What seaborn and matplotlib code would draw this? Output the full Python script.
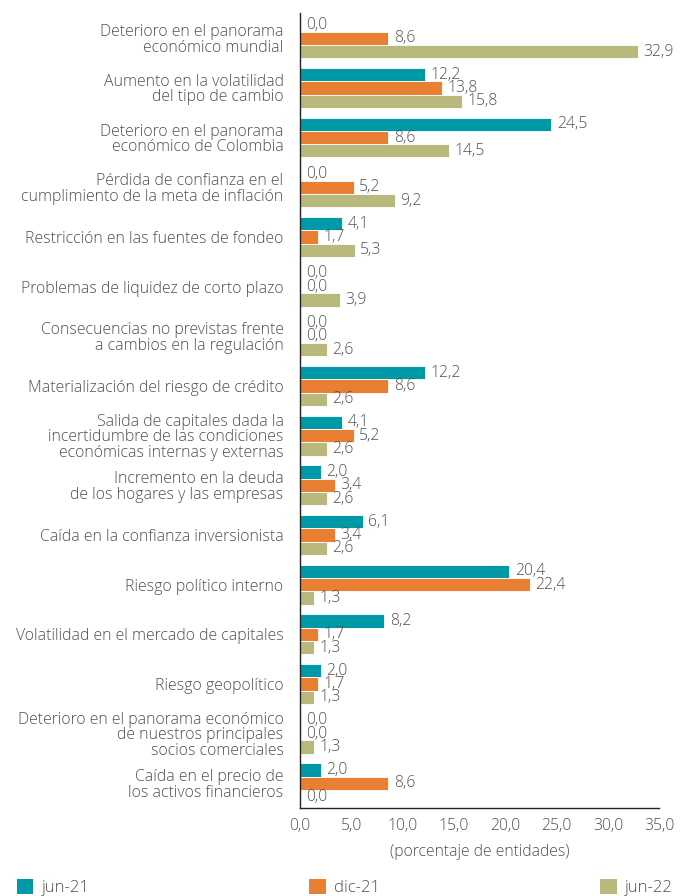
import matplotlib
matplotlib.use("Agg")
import matplotlib.pyplot as plt
import seaborn as sns
import pandas as pd
import numpy as np
from matplotlib.patches import Patch

categories = [
    "Deterioro en el panorama\neconómico mundial",
    "Aumento en la volatilidad\ndel tipo de cambio",
    "Deterioro en el panorama\neconómico de Colombia",
    "Pérdida de confianza en el\ncumplimiento de la meta de inflación",
    "Restricción en las fuentes de fondeo",
    "Problemas de liquidez de corto plazo",
    "Consecuencias no previstas frente\na cambios en la regulación",
    "Materialización del riesgo de crédito",
    "Salida de capitales dada la\nincertidumbre de las condiciones\neconómicas internas y externas",
    "Incremento en la deuda\nde los hogares y las empresas",
    "Caída en la confianza inversionista",
    "Riesgo político interno",
    "Volatilidad en el mercado de capitales",
    "Riesgo geopolítico",
    "Deterioro en el panorama económico\nde nuestros principales\nsocios comerciales",
    "Caída en el precio de\nlos activos financieros",
]
jun21 = [0.0, 12.2, 24.5, 0.0, 4.1, 0.0, 0.0, 12.2, 4.1, 2.0, 6.1, 20.4, 8.2, 2.0, 0.0, 2.0]
dic21 = [8.6, 13.8, 8.6, 5.2, 1.7, 0.0, 0.0, 8.6, 5.2, 3.4, 3.4, 22.4, 1.7, 1.7, 0.0, 8.6]
jun22 = [32.9, 15.8, 14.5, 9.2, 5.3, 3.9, 2.6, 2.6, 2.6, 2.6, 2.6, 1.3, 1.3, 1.3, 1.3, 0.0]
series = ["jun-21", "dic-21", "jun-22"]
colors = ["#0099A8", "#E97F32", "#B9B97D"]
xticks = [0, 5, 10, 15, 20, 25, 30, 35]

sns.set_theme(style="white")
plt.rcParams["font.family"] = ["Open Sans", "DejaVu Sans"]
plt.rcParams["font.weight"] = "light"
TXT = "#505050"

rows = []
for c, a, b, d in zip(categories, jun21, dic21, jun22):
    rows.append((c, "jun-21", a))
    rows.append((c, "dic-21", b))
    rows.append((c, "jun-22", d))
df = pd.DataFrame(rows, columns=["cat", "serie", "val"])

fig = plt.figure(figsize=(6.83, 8.96), dpi=100)
ax = fig.add_axes([0.4395, 0.098, 0.5256, 0.887])
sns.barplot(data=df, y="cat", x="val", hue="serie", order=categories,
            hue_order=series, palette=colors, saturation=1, orient="h", width=0.8,
            edgecolor="white", linewidth=0.6, ax=ax, legend=False)

for cont in ax.containers:
    labels = [f"{v:.1f}".replace(".", ",") for v in cont.datavalues]
    ax.bar_label(cont, labels=labels, padding=4, fontsize=11.3, color=TXT,
                 fontweight="light")

ax.set_xlim(0, 35)
ax.set_xticks(xticks)
ax.set_xticklabels([f"{t:.1f}".replace(".", ",") for t in xticks])
ax.set_ylabel("")
ax.set_xlabel("(porcentaje de entidades)", fontsize=11.3, color=TXT, labelpad=7,
              fontweight="light")
ax.tick_params(axis="x", direction="in", length=5, width=0.8, colors="#333333",
               labelsize=11.3, labelcolor=TXT, pad=7)
ax.tick_params(axis="y", length=0, labelsize=11.4, labelcolor=TXT, pad=12)
for lab in ax.get_yticklabels():
    lab.set_linespacing(0.95)
    lab.set_fontweight("light")
for lab in ax.get_xticklabels():
    lab.set_fontweight("light")
for s in ["top", "right"]:
    ax.spines[s].set_visible(False)
for s in ["left", "bottom"]:
    ax.spines[s].set_color("#222222")
    ax.spines[s].set_linewidth(1.0)

handles = [Patch(facecolor=c, edgecolor="none") for c in colors]
fig.legend(handles, series, loc="lower left", bbox_to_anchor=(0.01, -0.011, 0.99, 0.03),
           mode="expand", ncol=3, frameon=False, fontsize=12,
           handlelength=1.0, handleheight=1.0, handletextpad=0.5,
           borderaxespad=0.2, labelcolor=TXT)

fig.savefig("out.png", dpi=100)
